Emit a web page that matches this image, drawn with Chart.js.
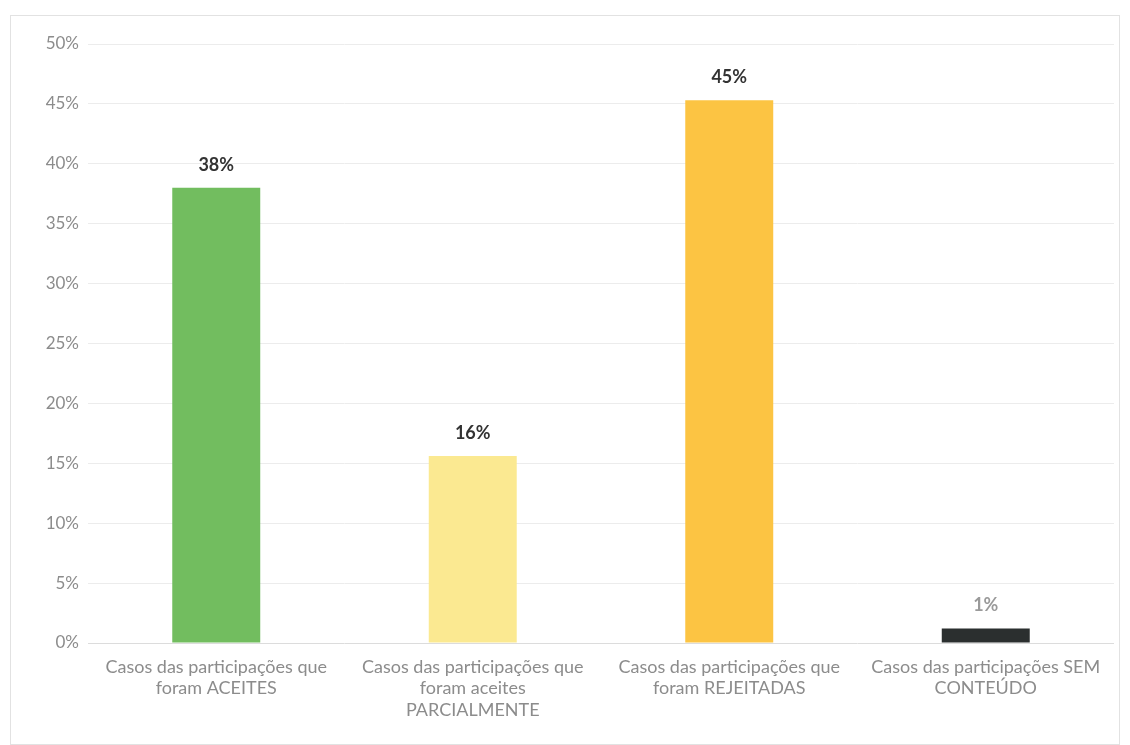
<!DOCTYPE html>
<html>
<head>
<meta charset="utf-8">
<script src="https://cdn.jsdelivr.net/npm/chart.js@4/dist/chart.umd.min.js"></script>
<style>
  body { margin: 0; background: #fff; }
  #frame { position: absolute; left: 10px; top: 15px; width: 1108px; height: 728px; border: 1px solid #e2e2e2; }
  #wrap { position: absolute; left: 0; top: 0; width: 1130px; height: 745px; }
</style>
</head>
<body>
<div id="frame"></div>
<div id="wrap"><canvas id="bar_chart"></canvas></div>
<script>
// chart data
const categories = [
  ['Casos das participações que', 'foram ACEITES'],
  ['Casos das participações que', 'foram aceites', 'PARCIALMENTE'],
  ['Casos das participações que', 'foram REJEITADAS'],
  ['Casos das participações SEM', 'CONTEÚDO']
];
const values = [38, 15.6, 45.3, 1.2];
const valueLabels = ['38%', '16%', '45%', '1%'];
const barColors = ['#72bd5f', '#fbe991', '#fcc443', '#2b2f2f'];
const labelColors = ['#333333', '#333333', '#333333', '#9a9a9a'];
const tickValues = [0, 5, 10, 15, 20, 25, 30, 35, 40, 45, 50];

const FONT = 'Lato, "Open Sans", sans-serif';

// draws the value above each bar
const valueLabelPlugin = {
  id: 'valueLabels',
  afterDatasetsDraw: function(chart) {
    const ctx = chart.ctx;
    const meta = chart.getDatasetMeta(0);
    ctx.save();
    ctx.textAlign = 'center';
    ctx.textBaseline = 'bottom';
    meta.data.forEach(function(bar, i) {
      ctx.font = 'bold 18px ' + FONT;
      ctx.fillStyle = labelColors[i];
      ctx.fillText(valueLabels[i], bar.x, bar.y - 14);
    });
    ctx.restore();
  }
};

function drawChart() {
  const ctx = document.getElementById('bar_chart');

  new Chart(ctx, {
    type: 'bar',
    data: {
      labels: categories,
      datasets: [{
        data: values,
        backgroundColor: barColors,
        borderWidth: 0,
        categoryPercentage: 1,
        barPercentage: 0.343
      }]
    },
    options: {
      responsive: true,
      maintainAspectRatio: false,
      animation: false,
      layout: { padding: { top: 44, right: 16, left: 0, bottom: 0 } },
      plugins: {
        legend: { display: false },
        tooltip: { enabled: false }
      },
      scales: {
        x: {
          grid: { display: false },
          border: { display: false },
          ticks: {
            color: '#8c8c8c',
            font: { family: FONT, size: 18, lineHeight: 1.2 },
            maxRotation: 0,
            autoSkip: false,
            padding: 5
          },
          afterFit: function(scale) { scale.height = 102; }
        },
        y: {
          min: 0,
          max: 50,
          afterBuildTicks: function(scale) {
            scale.ticks = tickValues.map(function(v) { return { value: v }; });
          },
          grid: {
            color: function(c) { return c.tick && c.tick.value === 0 ? '#dcdcdc' : '#ececec'; },
            drawTicks: false
          },
          border: { display: false },
          ticks: {
            color: '#8c8c8c',
            font: { family: FONT, size: 17 },
            padding: 9,
            callback: function(value) { return value + '%'; }
          },
          afterFit: function(scale) { scale.width = 88; }
        }
      }
    },
    plugins: [valueLabelPlugin]
  });
}

drawChart();
</script>
</body>
</html>
